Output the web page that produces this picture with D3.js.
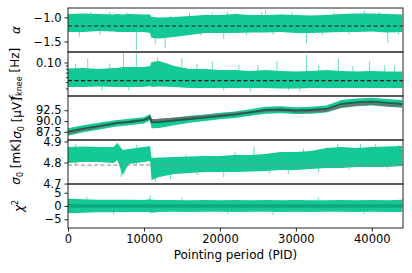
<!DOCTYPE html>
<html>
<head>
<meta charset="utf-8">
<style>
  body { margin: 0; background: #fff; }
  svg text { font-family: "DejaVu Sans", sans-serif; fill: #000; }
  .band { fill: #14c995; stroke: none; }
  .spike { stroke: #6fdcbb; stroke-width: 1; }
  .frame { fill: none; stroke: #222; stroke-width: 1; }
</style>
</head>
<body>
<div id="chart"></div>
<script src="https://d3js.org/d3.v7.min.js"></script>
<script>
var pid = [0, 2000, 4000, 6000, 6500, 7200, 8000, 10000, 10800, 11000, 12000, 14000, 16000, 18000,
           20000, 22000, 24000, 26000, 28000, 30000, 32000, 34000, 36000, 38000, 40000, 42000, 44000];

// alpha
var alphaHi = [-0.931, -0.921, -0.931, -0.942, -0.931, -0.942, -0.931, -0.942, -0.942, -0.994, -1.004, -0.994, -0.973, -0.952,
               -0.952, -0.931, -0.952, -0.952, -0.942, -0.952, -0.963, -0.952, -0.931, -0.921, -0.921, -0.931, -0.942];
var alphaLo = [-1.306, -1.306, -1.285, -1.296, -1.306, -1.306, -1.306, -1.306, -1.327, -1.431, -1.442, -1.410, -1.369, -1.327,
               -1.327, -1.327, -1.317, -1.317, -1.306, -1.327, -1.327, -1.317, -1.306, -1.306, -1.296, -1.317, -1.306];
var alphaFit = -1.18;
var alphaSpikes = [[1500, -1.40], [3000, -0.89], [4200, -1.36], [5500, -0.88], [7800, -0.90], [9000, -1.68], [11500, -1.55],
                   [12800, -1.64], [13500, -0.96], [16000, -0.90], [17500, -1.38], [19000, -0.90], [20500, -1.45],
                   [21000, -0.88], [23500, -1.37], [25500, -0.89], [26000, -0.85], [27000, -1.36], [29500, -0.90],
                   [31400, -1.54], [33500, -1.37], [35000, -0.90], [37000, -1.36], [39000, -0.86], [41000, -0.89],
                   [42100, -1.54], [43500, -1.36]];

// f_knee [Hz]
var fkHi = [0.0808, 0.0823, 0.0794, 0.0823, 0.0823, 0.0853, 0.0853, 0.0853, 0.0884, 0.1018, 0.1055, 0.0884, 0.0794, 0.0794,
            0.0767, 0.0767, 0.0740, 0.0767, 0.0740, 0.0727, 0.0740, 0.0767, 0.0740, 0.0727, 0.0740, 0.0727, 0.0727];
var fkLo = [0.0420, 0.0420, 0.0427, 0.0420, 0.0420, 0.0420, 0.0420, 0.0420, 0.0435, 0.0420, 0.0427, 0.0420, 0.0405, 0.0405,
            0.0405, 0.0405, 0.0405, 0.0405, 0.0398, 0.0398, 0.0405, 0.0405, 0.0405, 0.0405, 0.0405, 0.0405, 0.0405];
var fkFit = 0.0525;
var fkSpikes = [[1000, 0.095], [2600, 0.117], [4500, 0.037], [5500, 0.097], [7300, 0.140], [8000, 0.037], [9000, 0.140],
                [11800, 0.121], [13000, 0.098], [15000, 0.117], [17000, 0.095], [19000, 0.103], [20500, 0.037],
                [22500, 0.092], [24000, 0.036], [25000, 0.090], [27500, 0.105], [29000, 0.037], [30500, 0.036],
                [31400, 0.130], [33000, 0.090], [35600, 0.113], [37500, 0.088], [39700, 0.103], [41700, 0.0915],
                [43000, 0.090]];

// sigma0 [uV]
var suMid = [87.56, 88.26, 88.84, 89.42, 89.55, 89.65, 89.77, 90.23, 90.93, 89.70, 89.77, 90.12, 90.47, 90.81,
             91.16, 91.50, 92.00, 92.56, 92.67, 92.44, 92.56, 92.79, 93.95, 94.30, 94.49, 94.19, 93.95];
var suHi = [88.3, 89.0, 89.6, 90.1, 90.25, 90.35, 90.5, 90.9, 91.6, 90.4, 90.5, 90.8, 91.2, 91.5,
            91.9, 92.2, 92.7, 93.3, 93.4, 93.2, 93.3, 93.6, 94.9, 95.2, 95.4, 95.1, 94.9];
var suLo = [86.6, 87.4, 88.0, 88.6, 88.75, 88.85, 89.0, 89.4, 90.1, 88.3, 88.4, 89.0, 89.6, 90.0,
            90.4, 90.7, 91.2, 91.7, 91.8, 91.6, 91.7, 92.0, 93.0, 93.4, 93.6, 93.3, 93.1];
var suModel = [87.2, 88.0, 88.65, 89.4, 89.55, 89.7, 89.8, 90.3, 90.6, 90.2, 90.25, 90.5, 90.8, 91.1,
               91.4, 91.7, 92.0, 92.4, 92.5, 92.2, 92.25, 92.4, 93.4, 93.8, 94.0, 93.7, 93.5];

// sigma0 [mK]
var skHi = [4.874, 4.876, 4.874, 4.874, 4.893, 4.860, 4.864, 4.874, 4.879, 4.821, 4.824, 4.826, 4.829, 4.831,
            4.831, 4.836, 4.836, 4.840, 4.850, 4.850, 4.855, 4.869, 4.874, 4.869, 4.874, 4.876, 4.879];
var skLo = [4.798, 4.802, 4.802, 4.798, 4.812, 4.740, 4.793, 4.802, 4.807, 4.717, 4.731, 4.745, 4.750, 4.755,
            4.755, 4.755, 4.757, 4.760, 4.764, 4.764, 4.769, 4.774, 4.774, 4.779, 4.779, 4.779, 4.783];
var skFit = 4.788;
var skSpikes = [[1000, 4.888], [3000, 4.790], [7000, 4.731], [9000, 4.885], [11500, 4.707], [13500, 4.721], [15500, 4.840],
                [17000, 4.742], [20500, 4.730], [22000, 4.850], [24500, 4.875], [26500, 4.745], [29000, 4.745],
                [31000, 4.865], [33000, 4.755], [35500, 4.888], [37000, 4.765], [38500, 4.890], [40500, 4.888],
                [42000, 4.770], [43500, 4.885]];

// chi^2
var chiHi = [2.7, 2.5, 2.4, 2.4, 2.4, 2.4, 2.4, 2.3, 2.5, 2.4, 2.3, 2.3, 2.2, 2.3,
             2.2, 2.3, 2.2, 2.3, 2.2, 2.3, 2.2, 2.2, 2.3, 2.2, 2.3, 2.2, 2.4];
var chiLo = [-2.7, -2.5, -2.4, -2.4, -2.3, -2.4, -2.3, -2.3, -2.4, -2.5, -2.3, -2.2, -2.3, -2.2,
             -2.2, -2.3, -2.2, -2.2, -2.3, -2.2, -2.3, -2.2, -2.2, -2.3, -2.2, -2.3, -2.3];
var chiMid = [0.1, 0, 0, 0, 0, 0, 0, 0, 0.1, 0, 0, 0, 0, 0,
              0, 0, 0, 0, 0, 0, 0, 0, 0, 0, 0, 0, 0];
var chiSpikes = [[2500, 3.5], [6000, -3.2], [10800, 4.0], [15000, 3.1], [21000, -3.0], [27000, -3.5],
                 [33000, 3.2], [39000, -3.0], [44000, 3.0]];

var xTicks = [0, 10000, 20000, 30000, 40000];

var W = 412, H = 273,
    left = 68, right = 403,
    top0 = 8, ph = 44;

var svg = d3.select('#chart').append('svg')
    .attr('width', W).attr('height', H);

var x = d3.scaleLinear().domain([0, 44100]).range([left, right]);

var panels = [
  { y: d3.scaleLinear().domain([-1.72, -0.806]), ticks: [-1.0, -1.5], fmt: d3.format('.1f'),
    lo: alphaLo, hi: alphaHi, spikes: alphaSpikes, base: alphaFit, fit: alphaFit, fitColor: '#1a1a1a', lx: 20 },
  { y: d3.scaleLog().domain([0.0305, 0.145]), ticks: [0.1], minor: [0.04, 0.05, 0.06, 0.07, 0.08, 0.09], fmt: d3.format('.2f'),
    lo: fkLo, hi: fkHi, spikes: fkSpikes, base: fkFit, fit: fkFit, fitColor: '#1a1a1a', lx: 19 },
  { y: d3.scaleLinear().domain([85.6, 95.8]), ticks: [87.5, 90.0, 92.5], fmt: d3.format('.1f'),
    lo: suLo, hi: suHi, lx: 21 },
  { y: d3.scaleLinear().domain([4.698, 4.907]), ticks: [4.7, 4.8, 4.9], fmt: d3.format('.1f'),
    lo: skLo, hi: skHi, spikes: skSpikes, base: skFit, fit: skFit, fitColor: '#888', lx: 20 },
  { y: d3.scaleLinear().domain([-8.3, 8.3]), ticks: [-5, 0, 5], fmt: d3.format('d'),
    lo: chiLo, hi: chiHi, spikes: chiSpikes, base: 0, lx: 23 }
];

panels.forEach(function (p, i) {
  var t = top0 + i * ph;
  p.y.range([t + ph, t]);
  var g = svg.append('g');

  svg.append('clipPath').attr('id', 'clip' + i)
    .append('rect').attr('x', left).attr('y', t).attr('width', right - left).attr('height', ph);
  var plot = g.append('g').attr('clip-path', 'url(#clip' + i + ')');

  var area = d3.area()
    .x(function (d, k) { return x(pid[k]); })
    .y0(function (d, k) { return p.y(p.lo[k]); })
    .y1(function (d, k) { return p.y(p.hi[k]); });

  if (p.spikes) {
    plot.selectAll('.spike').data(p.spikes).enter().append('line')
      .attr('class', 'spike')
      .attr('x1', function (d) { return x(d[0]); })
      .attr('x2', function (d) { return x(d[0]); })
      .attr('y1', p.y(p.base))
      .attr('y2', function (d) { return p.y(d[1]); });
  }

  plot.append('path').datum(pid).attr('class', 'band').attr('d', area);

  if (i === 2) {   // model and measured sigma0
    var line = function (arr) {
      return d3.line().x(function (d, k) { return x(pid[k]); })
                      .y(function (d, k) { return p.y(arr[k]); });
    };
    plot.append('path').datum(pid).attr('d', line(suModel))
      .attr('fill', 'none').attr('stroke', '#707070').attr('stroke-width', 2.2);
    plot.append('path').datum(pid).attr('d', line(suMid))
      .attr('fill', 'none').attr('stroke', '#1d5e48').attr('stroke-width', 1.8);
  }

  if (i === 4) {   // chi2 core
    plot.append('path').datum(pid)
      .attr('d', d3.line().x(function (d, k) { return x(pid[k]); })
                          .y(function (d, k) { return p.y(chiMid[k]); }))
      .attr('fill', 'none').attr('stroke', '#0ea87b').attr('stroke-width', 3.5);
  }

  if (p.fit !== undefined) {
    plot.append('line')
      .attr('x1', left).attr('x2', right)
      .attr('y1', p.y(p.fit)).attr('y2', p.y(p.fit))
      .attr('stroke', p.fitColor).attr('stroke-width', 1.1)
      .attr('stroke-dasharray', '4,2.5');
  }

  var ax = g.append('g').attr('transform', 'translate(' + left + ',0)')
    .call(d3.axisLeft(p.y).tickValues(p.ticks).tickFormat(p.fmt).tickSize(3.5).tickPadding(3));
  ax.select('.domain').remove();
  ax.selectAll('text').attr('font-size', '11.5px').attr('font-family', 'DejaVu Sans');
  ax.selectAll('line').attr('stroke', '#222');

  if (p.minor) {
    var mx = g.append('g').attr('transform', 'translate(' + left + ',0)')
      .call(d3.axisLeft(p.y).tickValues(p.minor).tickFormat('').tickSize(2));
    mx.select('.domain').remove();
    mx.selectAll('line').attr('stroke', '#222');
  }

  g.append('rect').attr('class', 'frame')
    .attr('x', left).attr('y', t).attr('width', right - left).attr('height', ph);

  // y label
  var lab = svg.append('text')
    .attr('transform', 'translate(' + p.lx + ',' + (t + ph / 2) + ') rotate(-90)')
    .attr('text-anchor', 'middle')
    .attr('font-size', '12px');
  if (i === 0) {
    lab.append('tspan').attr('font-style', 'italic').text('α');
  } else if (i === 1) {
    lab.append('tspan').attr('font-style', 'italic').text('f');
    lab.append('tspan').attr('font-size', '8px').attr('dy', 3).text('knee');
    lab.append('tspan').attr('dy', -3).text(' [Hz]');
  } else if (i === 2 || i === 3) {
    lab.append('tspan').attr('font-style', 'italic').text('σ');
    lab.append('tspan').attr('font-size', '8px').attr('dy', 3).text('0');
    lab.append('tspan').attr('dy', -3).text(i === 2 ? ' [μV]' : ' [mK]');
  } else {
    lab.append('tspan').attr('font-style', 'italic').text('χ');
    lab.append('tspan').attr('font-size', '8px').attr('dy', -5).text('2');
  }
});

var xa = svg.append('g').attr('transform', 'translate(0,' + (top0 + 5 * ph) + ')')
  .call(d3.axisBottom(x).tickValues(xTicks).tickFormat(d3.format('d')).tickSize(3.5).tickPadding(3));
xa.select('.domain').remove();
xa.selectAll('text').attr('font-size', '11.5px').attr('font-family', 'DejaVu Sans');
xa.selectAll('line').attr('stroke', '#222');

svg.append('text')
  .attr('x', (left + right) / 2).attr('y', 259)
  .attr('text-anchor', 'middle')
  .attr('font-size', '12px')
  .text('Pointing period (PID)');
</script>
</body>
</html>
